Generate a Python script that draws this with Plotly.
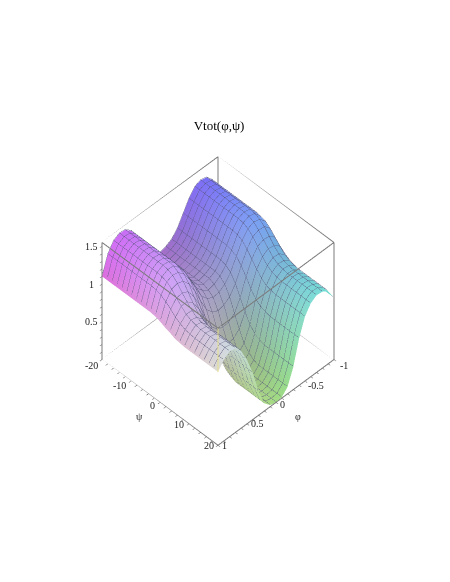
import plotly.graph_objects as go

phi_values = [-1.0,-0.9,-0.8,-0.7,-0.6,-0.5,-0.4,-0.3,-0.2,-0.1,0.0,0.1,0.2,0.3,0.4,0.5,0.6,0.7,0.8,0.9,1.0]
psi_values = [-20,-18.33,-16.67,-15,-13.33,-11.67,-10,-8.33,-6.67,-5,-3.33,-1.67,0,1.67,3.33,5,6.67,8.33,10,11.67,13.33,15,16.67,18.33,20]
z_rows = [
 [1.08,1.30,1.39,1.41,1.38,1.28,1.14,1.00,.91,.87,.85,.90,.99,1.14,1.30,1.42,1.49,1.50,1.46,1.34,1.10],
 [1.08,1.30,1.39,1.41,1.38,1.28,1.14,1.00,.91,.87,.85,.90,.99,1.14,1.30,1.42,1.49,1.50,1.46,1.34,1.10],
 [1.08,1.30,1.39,1.41,1.38,1.28,1.14,1.00,.91,.87,.85,.90,.99,1.14,1.30,1.42,1.49,1.50,1.46,1.34,1.10],
 [1.08,1.30,1.39,1.41,1.38,1.28,1.14,1.00,.91,.87,.85,.90,.99,1.14,1.30,1.42,1.49,1.50,1.46,1.34,1.10],
 [1.08,1.30,1.39,1.41,1.38,1.28,1.14,1.00,.91,.87,.85,.90,.99,1.14,1.30,1.42,1.49,1.50,1.46,1.34,1.10],
 [1.08,1.30,1.39,1.41,1.38,1.28,1.14,1.00,.91,.87,.85,.90,.99,1.14,1.30,1.42,1.49,1.50,1.46,1.34,1.10],
 [1.08,1.30,1.39,1.41,1.38,1.28,1.14,1.00,.91,.87,.85,.90,.99,1.14,1.30,1.42,1.49,1.50,1.46,1.34,1.10],
 [1.08,1.30,1.39,1.41,1.38,1.28,1.14,1.00,.91,.87,.85,.90,.99,1.14,1.30,1.42,1.49,1.50,1.46,1.34,1.10],
 [1.08,1.30,1.39,1.41,1.38,1.28,1.14,1.00,.91,.87,.85,.90,.99,1.14,1.30,1.42,1.49,1.50,1.46,1.34,1.10],
 [1.08,1.30,1.39,1.41,1.38,1.28,1.14,1.00,.91,.87,.85,.90,.99,1.14,1.30,1.42,1.49,1.50,1.46,1.34,1.10],
 [1.07,1.29,1.38,1.40,1.37,1.27,1.12,.98,.89,.84,.82,.87,.96,1.12,1.28,1.40,1.48,1.49,1.45,1.33,1.10],
 [1.05,1.27,1.35,1.37,1.34,1.24,1.09,.93,.83,.78,.77,.81,.90,1.06,1.23,1.36,1.44,1.46,1.43,1.31,1.09],
 [1.02,1.22,1.30,1.31,1.28,1.17,1.01,.83,.71,.66,.64,.68,.77,.94,1.13,1.28,1.37,1.40,1.38,1.27,1.07],
 [.96,1.15,1.22,1.23,1.20,1.09,.91,.69,.54,.48,.47,.50,.59,.77,.99,1.16,1.28,1.32,1.31,1.22,1.04],
 [.91,1.08,1.14,1.16,1.11,1.00,.80,.55,.38,.31,.30,.33,.41,.61,.86,1.05,1.18,1.25,1.25,1.16,1.02],
 [.87,1.02,1.08,1.09,1.04,.93,.71,.43,.24,.16,.15,.18,.26,.47,.74,.95,1.10,1.18,1.19,1.12,.99],
 [.84,.99,1.04,1.05,1.00,.88,.66,.36,.16,.08,.07,.09,.17,.39,.67,.90,1.06,1.14,1.16,1.09,.98],
 [.83,.97,1.02,1.03,.98,.86,.64,.32,.11,.04,.03,.05,.13,.34,.64,.87,1.03,1.12,1.14,1.08,.97],
 [.82,.96,1.01,1.02,.97,.85,.62,.30,.09,.01,.00,.02,.10,.32,.62,.85,1.02,1.11,1.13,1.07,.97],
 [.82,.96,1.01,1.02,.97,.85,.62,.30,.09,.01,.00,.02,.10,.32,.62,.85,1.02,1.11,1.13,1.07,.97],
 [.82,.96,1.01,1.02,.97,.85,.62,.30,.09,.01,.00,.02,.10,.32,.62,.85,1.02,1.11,1.13,1.07,.97],
 [.82,.96,1.01,1.02,.97,.85,.62,.30,.09,.01,.00,.02,.10,.32,.62,.85,1.02,1.11,1.13,1.07,.97],
 [.82,.96,1.01,1.02,.97,.85,.62,.30,.09,.01,.00,.02,.10,.32,.62,.85,1.02,1.11,1.13,1.07,.97],
 [.82,.96,1.01,1.02,.97,.85,.62,.30,.09,.01,.00,.02,.10,.32,.62,.85,1.02,1.11,1.13,1.07,.97],
 [.82,.96,1.01,1.02,.97,.85,.62,.30,.09,.01,.00,.02,.10,.32,.62,.85,1.02,1.11,1.13,1.07,.97],
]
phi_ticks = [-1,-0.5,0,0.5,1]
phi_tick_labels = ["-1","-0.5","0","0.5","1"]
psi_ticks = [-20,-10,0,10,20]
psi_tick_labels = ["-20","-10","0","10","20"]
z_ticks = [0.5,1,1.5]
z_tick_labels = ["0.5","1","1.5"]
phi_minor = [-1,-.9,-.8,-.7,-.6,-.5,-.4,-.3,-.2,-.1,0,.1,.2,.3,.4,.5,.6,.7,.8,.9,1]
psi_minor = [-20,-18,-16,-14,-12,-10,-8,-6,-4,-2,0,2,4,6,8,10,12,14,16,18,20]
z_minor = [.1,.2,.3,.4,.5,.6,.7,.8,.9,1,1.1,1.2,1.3,1.4,1.5]
phi_range = [-1, 1]
psi_range = [-20, 20]
z_range = [0, 1.55]

nj, ni = len(psi_values), len(phi_values)
xs, ys, zs, cols = [], [], [], []
for j, psi in enumerate(psi_values):
    for i, phi in enumerate(phi_values):
        z = z_rows[j][i]
        xs.append(phi); ys.append(psi); zs.append(z)
        r = 110 + 115*(phi+1)/2
        g = 112 + 113*(psi+20)/40
        b = 135 + 115*min(z/1.4, 1)
        cols.append(f"rgb({r:.0f},{g:.0f},{b:.0f})")
I, J, K = [], [], []
for j in range(nj-1):
    for i in range(ni-1):
        a = j*ni+i; b = a+1; c = a+ni; d = c+1
        I += [a, b]; J += [b, d]; K += [c, c]

fig = go.Figure()
fig.add_trace(go.Mesh3d(x=xs, y=ys, z=zs, i=I, j=J, k=K, vertexcolor=cols, flatshading=False,
    lighting=dict(ambient=0.98, diffuse=0.14, specular=0.0, roughness=1, fresnel=0),
    lightposition=dict(x=1000, y=-500, z=2000), hoverinfo="skip", showscale=False))
lift = (0.012, 0.24, 0.02)
lx, ly, lz = [], [], []
for j, psi in enumerate(psi_values):
    lx += [p + lift[0] for p in phi_values] + [None]
    ly += [psi + lift[1]]*ni + [None]
    lz += [v + lift[2] for v in z_rows[j]] + [None]
for i, phi in enumerate(phi_values):
    lx += [phi + lift[0]]*nj + [None]
    ly += [p + lift[1] for p in psi_values] + [None]
    lz += [r[i] + lift[2] for r in z_rows] + [None]
fig.add_trace(go.Scatter3d(x=lx, y=ly, z=lz, mode="lines", line=dict(color="rgba(60,60,85,0.7)", width=1),
    hoverinfo="skip", showlegend=False))

bx, by, bz = [], [], []
x0, x1 = phi_range; y0, y1 = psi_range; z0, z1 = z_range
for a, b in [((x0,y0),(x1,y0)),((x1,y0),(x1,y1)),((x1,y1),(x0,y1)),((x0,y1),(x0,y0))]:
    for zz in (z0, z1):
        bx += [a[0], b[0], None]; by += [a[1], b[1], None]; bz += [zz, zz, None]
    if a != (x1, y1):
        bx += [a[0], a[0], None]; by += [a[1], a[1], None]; bz += [z0, z1, None]
fig.add_trace(go.Scatter3d(x=bx, y=by, z=bz, mode="lines", line=dict(color="#7a7a7a", width=2),
    hoverinfo="skip", showlegend=False))
fig.add_trace(go.Scatter3d(x=[x1, x1], y=[y1, y1], z=[z_rows[-1][-1], z1], mode="lines",
    line=dict(color="#e6e08e", width=2), hoverinfo="skip", showlegend=False))

lf = dict(family="Liberation Serif", size=10, color="#222")
ann = []
psi_shift = [(-11,6),(-11,4),(-7,3),(-10,1),(-9,0)]
for v, t, s in zip(psi_ticks, psi_tick_labels, psi_shift):
    ann.append(dict(x=x1, y=v, z=z0, text=t, showarrow=False, xshift=s[0], yshift=-s[1], font=lf))
phi_shift = [(10,6),(11,4),(7,2),(11,0),(7,0)]
for v, t, s in zip(phi_ticks, phi_tick_labels, phi_shift):
    ann.append(dict(x=v, y=y1, z=z0, text=t, showarrow=False, xshift=s[0], yshift=-s[1], font=lf))
for v, t in zip(z_ticks, z_tick_labels):
    ann.append(dict(x=x1, y=y0, z=v, text=t, showarrow=False, xshift=-11, yshift=0, font=lf))
ann.append(dict(x=x1, y=0, z=z0, text="ψ", showarrow=False, xshift=-20, yshift=-14, font=lf))
ann.append(dict(x=0, y=y1, z=z0, text="φ", showarrow=False, xshift=22, yshift=-14, font=lf))

ax = dict(showbackground=False, showgrid=False, zeroline=False, showline=False,
          ticks="outside", ticklen=3, tickcolor="#555", showticklabels=False, showspikes=False,
          title=dict(text=""))
fig.update_layout(
    width=450, height=582, margin=dict(l=0, r=0, t=0, b=0), paper_bgcolor="white", showlegend=False,
    title=dict(text="Vtot(φ,ψ)", x=0.469, xanchor="center", y=0.799, yanchor="middle",
               font=dict(family="Liberation Serif", size=13, color="black")),
    scene=dict(
        domain=dict(x=[0, 0.933], y=[0.2146, 0.7782]),
        xaxis=dict(ax, range=phi_range, tickvals=phi_minor),
        yaxis=dict(ax, range=psi_range, tickvals=psi_minor),
        zaxis=dict(ax, range=z_range, tickvals=z_minor),
        aspectmode="manual", aspectratio=dict(x=1, y=1, z=1.06),
        camera=dict(projection=dict(type="orthographic"), up=dict(x=0, y=0, z=1),
                    center=dict(x=0, y=0, z=0), eye=dict(x=0.85, y=0.85, z=1.32)),
        annotations=ann,
    ),
)
fig.write_html("out.html")
